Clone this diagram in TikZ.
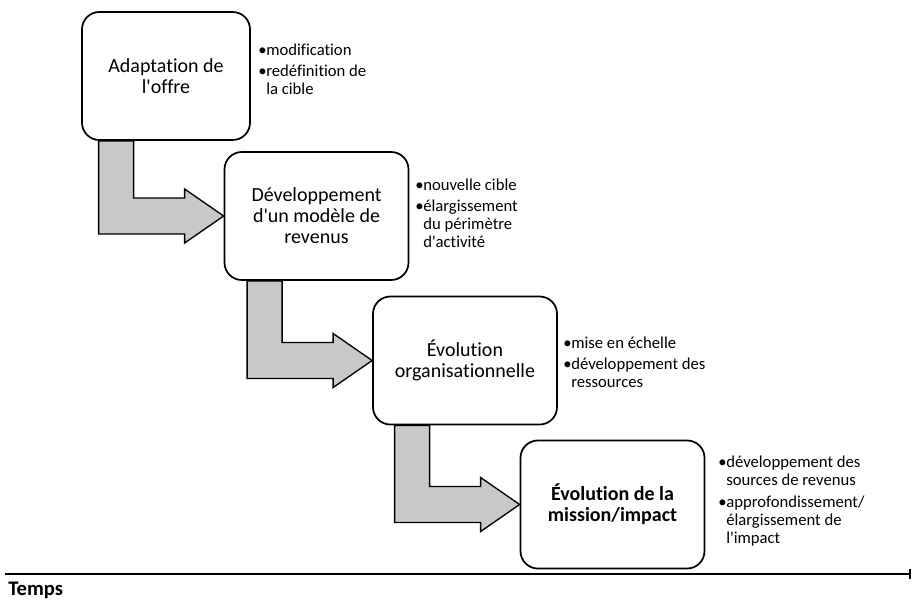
\documentclass[tikz,border=0pt]{standalone}
\usepackage{fontspec}
\setmainfont{Carlito}[Ligatures={TeX,NoCommon}]
\usetikzlibrary{calc,arrows.meta,backgrounds}
\definecolor{grisfleche}{RGB}{200,200,200}
\tikzset{
  etape/.style={draw,line width=1.3pt,rounded corners=13pt,minimum width=138pt,minimum height=96pt,align=center,font=\fontsize{15}{15.75}\selectfont},
  puces/.style={anchor=west,align=left,inner sep=0pt,font=\fontsize{12.5}{13.5}\selectfont},
  fleche/.style={draw,fill=grisfleche,line width=1pt,line join=miter},
  axe/.style={line width=1.2pt,-{Bar[width=8pt,line width=1.2pt]}}
}
\newcommand{\pu}{\makebox[6pt][l]{\textbullet}}
\newcommand{\suite}{\hspace*{6pt}}
\newcommand{\ap}{\textquotesingle}
% fleche coudee du bas de #1 vers le cote gauche de #2
\newcommand{\coude}[2]{%
  \path (#2.west) ++(-125,0) coordinate (#2-g);
  \draw[fleche] (#2-g |- #1.south) -- ++(35,0) |- ($(#2.west)+(-39,18)$) -- ++(0,9) -- (#2.west)
    -- ++(-39,-27) -- ++(0,9) -| (#2-g |- #1.south) -- cycle;}
\begin{document}
\begin{tikzpicture}[x=0.75pt,y=0.75pt]
  \useasboundingbox (0,0) rectangle (914,-600);
  \node[etape,minimum width=126pt] (adapt) at (166,-76) {Adaptation de\\l\ap offre};
  \node[etape] (revenus) at (316.5,-216) {Développement\\d\ap un modèle de\\revenus};
  \node[etape] (orga) at (465,-360.5) {Évolution\\organisationnelle};
  \node[etape,font=\fontsize{15}{15.75}\selectfont\bfseries] (mission) at (612.5,-504.5) {Évolution de la\\mission/impact};
  \begin{scope}[on background layer]
    \coude{adapt}{revenus}
    \coude{revenus}{orga}
    \coude{orga}{mission}
  \end{scope}
  \node[puces] (p1) at (258,-69) {\pu modification\\[2.25pt]\pu redéfinition de\\\suite la cible};
  \node[puces] (p2) at (415,-213) {\pu nouvelle cible\\[2.25pt]\pu élargissement\\\suite du périmètre\\\suite d\ap activité};
  \node[puces] (p3) at (563,-362) {\pu mise en échelle\\[2.25pt]\pu développement des\\\suite ressources};
  \node[puces] (p4) at (718,-501) {\pu développement des\\\suite sources de revenus\\[3pt]\pu approfondissement/\\\suite élargissement de\\\suite l\ap impact};
  \coordinate (t0) at (5,-574);
  \coordinate (t1) at (911,-574);
  \draw[axe] (t0) -- (t1);
  \node[anchor=base west,inner sep=0pt,font=\fontsize{15.5}{16}\selectfont\bfseries] (temps) at (8,-595) {Temps};
\end{tikzpicture}
\end{document}
